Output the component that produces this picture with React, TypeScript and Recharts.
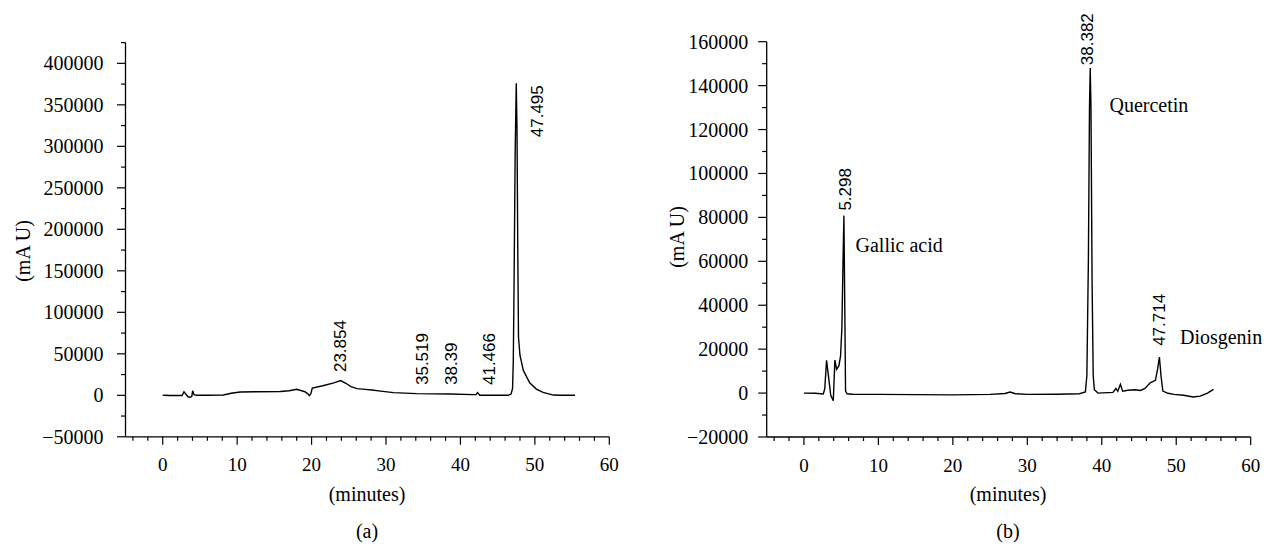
import React from 'react';
import { LineChart, Line, XAxis, YAxis, ReferenceDot } from 'recharts';

// ---------- Panel (a) ----------
const timeA = [0, 1, 2.6, 2.86, 3.1, 3.4, 3.67, 3.9, 4.03, 4.2, 4.5, 6, 8.15, 9.2, 10.4, 12.5, 15.8, 17, 18.0, 19.1, 19.5, 19.7, 19.9, 20.1, 21.5, 23.0, 23.9, 24.6, 25.3, 26.1, 27.2, 28.1, 29.3, 31.0, 34.1, 38.6, 41.7, 42.1, 42.3, 42.6, 44.5, 46.4, 46.8, 47.0, 47.1, 47.2, 47.35, 47.5, 47.6, 47.7, 47.8, 48.0, 48.45, 49.3, 50.2, 51.1, 52.5, 53.5, 55.4];
const signalA = [0, -200, -300, 4300, 1500, -1800, -2400, -1500, 5600, 800, 0, 0, 300, 2500, 4000, 4300, 4500, 5500, 7200, 4300, 1800, -400, 2000, 8800, 11500, 15000, 17700, 14500, 10500, 8000, 7200, 6400, 5000, 3200, 2000, 1600, 800, 900, 3200, 0, 200, 0, 1500, 8000, 40000, 130000, 290000, 376000, 320000, 180000, 70000, 48000, 30000, 15000, 7500, 3600, 300, 0, 0];

const yTicksA = [-50000, -25000, 0, 25000, 50000, 75000, 100000, 125000, 150000, 175000, 200000, 225000, 250000, 275000, 300000, 325000, 350000, 375000, 400000, 425000];
const peakTextA = ['23.854', '35.519', '38.39', '41.466', '47.495'];
const peakXA = [23.82, 34.93, 38.83, 43.97, 50.42];
const peakYA = [28000, 12400, 12400, 12400, 311000];

// ---------- Panel (b) ----------
const timeB = [0, 1.5, 2.6, 2.8, 3.04, 3.25, 3.6, 3.94, 4.16, 4.39, 4.7, 4.92, 5.1, 5.25, 5.37, 5.47, 5.59, 5.8, 6.5, 10, 15, 20, 25, 27, 27.7, 28.4, 30, 34, 37, 37.8, 38.0, 38.2, 38.35, 38.45, 38.55, 38.7, 38.85, 39.0, 39.5, 41.5, 41.9, 42.15, 42.5, 42.8, 43.5, 44.5, 45.2, 45.8, 46.5, 47.2, 47.5, 47.74, 47.95, 48.2, 48.9, 49.7, 51, 52.3, 53.2, 54.2, 55];
const signalB = [0, -100, -400, 2000, 14900, 9000, -1000, -3500, 15000, 10800, 12500, 16900, 30000, 60000, 80800, 45000, 900, -300, -500, -600, -700, -800, -600, -200, 500, -300, -600, -500, -300, 500, 8000, 60000, 130000, 148000, 130000, 50000, 8000, 1500, 0, 300, 2100, 800, 4000, 900, 1300, 1500, 1200, 2100, 4700, 5800, 11000, 16400, 8000, 900, -100, -600, -1000, -1800, -1400, 0, 1700];

const yTicksB = [-20000, -10000, 0, 10000, 20000, 30000, 40000, 50000, 60000, 70000, 80000, 90000, 100000, 110000, 120000, 130000, 140000, 150000, 160000];
const peakTextB = ['5.298', '38.382', '47.714'];
const peakXB = [5.6, 38.05, 47.7];
const peakYB = [83100, 149300, 21500];
const compoundNames = ['Gallic acid', 'Quercetin', 'Diosgenin'];
const compoundX = [6.93, 41.03, 50.5];
const compoundY = [64100, 128000, 22200];

// ---------- shared ----------
const xTicks = [-4, -2, 0, 2, 4, 6, 8, 10, 12, 14, 16, 18, 20, 22, 24, 26, 28, 30, 32, 34, 36, 38, 40, 42, 44, 46, 48, 50, 52, 54, 56, 58, 60];

const SERIF = '"Liberation Serif", "Times New Roman", serif';
const SANS = '"Liberation Sans", Arial, sans-serif';

const dataA = timeA.map((t, i) => ({ t, v: signalA[i] }));
const dataB = timeB.map((t, i) => ({ t, v: signalB[i] }));

const fmt = (v: number) => (v < 0 ? '\u2212' + String(-v) : String(v));

const makeYTick = (majorStep: number, gap: number) => (props: any) => {
  const { x, y, payload } = props;
  const v = payload.value;
  const major = v % majorStep === 0;
  return (
    <g>
      <line x1={x - (major ? 8.5 : 4.5)} x2={x} y1={y} y2={y} stroke="#000" strokeWidth={1.2} />
      {major && (
        <text x={x - gap} y={y} textAnchor="end" dominantBaseline="central" fontFamily={SERIF} fontSize={20} fill="#000">
          {fmt(v)}
        </text>
      )}
    </g>
  );
};

const XTick = (props: any) => {
  const { x, y, payload } = props;
  const v = payload.value;
  const major = v % 10 === 0;
  return (
    <g>
      <line x1={x} x2={x} y1={y} y2={y + (major ? 8 : 4)} stroke="#000" strokeWidth={1.2} />
      {major && (
        <text x={x} y={y + 28} textAnchor="middle" dominantBaseline="central" fontFamily={SERIF} fontSize={19} fill="#000">
          {v}
        </text>
      )}
    </g>
  );
};

const rotatedLabel = (text: string) => (props: any) => {
  const { cx, cy } = props;
  return (
    <text x={cx} y={cy} transform={`rotate(-90 ${cx} ${cy})`} textAnchor="start" dominantBaseline="central" fontFamily={SANS} fontSize={17} fill="#000">
      {text}
    </text>
  );
};

const plainLabel = (text: string) => (props: any) => {
  const { cx, cy } = props;
  return (
    <text x={cx} y={cy} textAnchor="start" fontFamily={SERIF} fontSize={20} fill="#000">
      {text}
    </text>
  );
};

const YTickA = makeYTick(50000, 22);
const YTickB = makeYTick(20000, 18.4);

const absText = (left: number, top: number, text: string, rotate = false): React.CSSProperties => ({
  position: 'absolute',
  left,
  top,
  transform: `translate(-50%, -50%)${rotate ? ' rotate(-90deg)' : ''}`,
  whiteSpace: 'nowrap',
  fontFamily: SERIF,
  fontSize: 20,
  lineHeight: 1,
  color: '#000',
});

export default function App() {
  return (
    <div style={{ position: 'absolute', left: 0, top: 0, width: 1269, height: 546, background: '#fff', overflow: 'hidden' }}>
      <div style={{ position: 'absolute', left: 0, top: 0 }}>
        <LineChart width={640} height={546} data={dataA} margin={{ top: 42.6, right: 30.7, bottom: 79.2, left: 0 }}>
          <XAxis
            dataKey="t"
            type="number"
            domain={[-5, 60]}
            allowDataOverflow
            ticks={xTicks}
            interval={0}
            tickLine={false}
            tickSize={0}
            tickMargin={0}
            tick={<XTick />}
            axisLine={{ stroke: '#000', strokeWidth: 1.3 }}
            height={30}
          />
          <YAxis
            type="number"
            domain={[-50000, 425000]}
            allowDataOverflow
            ticks={yTicksA}
            interval={0}
            tickLine={false}
            tickSize={0}
            tickMargin={0}
            tick={<YTickA />}
            axisLine={{ stroke: '#000', strokeWidth: 1.3 }}
            width={125.5}
          />
          <Line type="linear" dataKey="v" stroke="#000" strokeWidth={1.4} dot={false} isAnimationActive={false} />
          {peakTextA.map((txt, i) => (
            <ReferenceDot key={txt} x={peakXA[i]} y={peakYA[i]} r={0} ifOverflow="visible" shape={rotatedLabel(txt)} />
          ))}
        </LineChart>
      </div>
      <div style={{ position: 'absolute', left: 640, top: 0 }}>
        <LineChart width={629} height={546} data={dataB} margin={{ top: 41.7, right: 18.3, bottom: 79, left: 0 }}>
          <XAxis
            dataKey="t"
            type="number"
            domain={[-5, 60]}
            allowDataOverflow
            ticks={xTicks}
            interval={0}
            tickLine={false}
            tickSize={0}
            tickMargin={0}
            tick={<XTick />}
            axisLine={{ stroke: '#000', strokeWidth: 1.3 }}
            height={30}
          />
          <YAxis
            type="number"
            domain={[-20000, 160000]}
            allowDataOverflow
            ticks={yTicksB}
            interval={0}
            tickLine={false}
            tickSize={0}
            tickMargin={0}
            tick={<YTickB />}
            axisLine={{ stroke: '#000', strokeWidth: 1.3 }}
            width={126.7}
          />
          <Line type="linear" dataKey="v" stroke="#000" strokeWidth={1.4} dot={false} isAnimationActive={false} />
          {peakTextB.map((txt, i) => (
            <ReferenceDot key={txt} x={peakXB[i]} y={peakYB[i]} r={0} ifOverflow="visible" shape={rotatedLabel(txt)} />
          ))}
          {compoundNames.map((txt, i) => (
            <ReferenceDot key={txt} x={compoundX[i]} y={compoundY[i]} r={0} ifOverflow="visible" shape={plainLabel(txt)} />
          ))}
        </LineChart>
      </div>
      <div style={absText(22.5, 250.5, '(mA U)', true)}>(mA U)</div>
      <div style={absText(677, 236.5, '(mA U)', true)}>(mA U)</div>
      <div style={absText(367, 494, '(minutes)')}>(minutes)</div>
      <div style={absText(1008, 494, '(minutes)')}>(minutes)</div>
      <div style={absText(367, 531, '(a)')}>(a)</div>
      <div style={absText(1008, 531, '(b)')}>(b)</div>
    </div>
  );
}
